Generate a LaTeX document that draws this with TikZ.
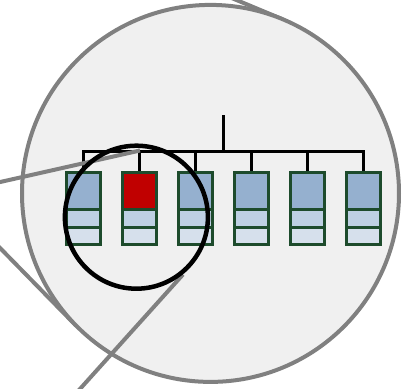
\documentclass[tikz,border=0pt]{standalone}
\usetikzlibrary{calc}
\definecolor{bg}{HTML}{F0F0F0}
\definecolor{ringgray}{HTML}{808080}
\definecolor{boxgreen}{HTML}{1D4B2C}
\definecolor{topblue}{HTML}{95B0CF}
\definecolor{midblue}{HTML}{BED0E3}
\definecolor{lowblue}{HTML}{D6E0EC}
\definecolor{hotred}{HTML}{C00000}
\begin{document}
\begin{tikzpicture}[x=1pt,y=-1pt,
  spyline/.style={draw=ringgray, line width=4pt},
  treeline/.style={draw=black, line width=3pt},
  cellbox/.style={draw=boxgreen, line width=3pt, minimum width=34.7pt,
    minimum height=71.7pt, inner sep=0pt, fill=#1,
    path picture={
      \fill[midblue] ([yshift=-36.5pt]path picture bounding box.north west) rectangle (path picture bounding box.south east);
      \fill[lowblue] ([yshift=-54.5pt]path picture bounding box.north west) rectangle (path picture bounding box.south east);
      \draw[boxgreen, line width=3pt] ([yshift=-36.5pt]path picture bounding box.north west) -- ([yshift=-36.5pt]path picture bounding box.north east);
      \draw[boxgreen, line width=3pt] ([yshift=-54.5pt]path picture bounding box.north west) -- ([yshift=-54.5pt]path picture bounding box.north east);
    }},
  cellbox/.default=topblue]
\useasboundingbox (0,0) rectangle (408,389);
\clip (0,0) rectangle (408,389);
% connector lines behind the lens
\coordinate (l2a) at (218,-7.7);
\coordinate (l2b) at (282.9,19.4);
\coordinate (l3a) at (-7,240.8);
\coordinate (l3b) at (76,325.6);
\draw[spyline] (l2a) -- (l2b);
\draw[spyline] (l3a) -- (l3b);
% lens
\node[circle, draw=ringgray, line width=4pt, fill=bg, minimum size=377pt, inner sep=0pt] (lens) at (210.5,193.4) {};
% tree
\coordinate (root) at (223.3,115);
\coordinate (hub) at (223.3,151);
\foreach \i in {1,...,6}{
  \ifnum\i=2
    \node[cellbox=hotred] (b\i) at ({83.5+56*(\i-1)},208.35) {};
  \else
    \node[cellbox] (b\i) at ({83.5+56*(\i-1)},208.35) {};
  \fi
}
\draw[treeline] (root) -- (hub);
\foreach \i in {1,...,6}{
  \draw[treeline] (hub) -| (b\i.north);
}
% connector lines in front
\coordinate (l1a) at (-10,184.3);
\coordinate (l1b) at (140,150.5);
\coordinate (l4a) at (73.3,396.4);
\coordinate (l4b) at (183,274.5);
\draw[spyline] (l1a) -- (l1b);
\draw[spyline] (l4a) -- (l4b);
% focus circle
\node[circle, draw=black, line width=4.5pt, minimum size=143pt, inner sep=0pt] (focus) at (136.4,217.2) {};
\end{tikzpicture}
\end{document}
